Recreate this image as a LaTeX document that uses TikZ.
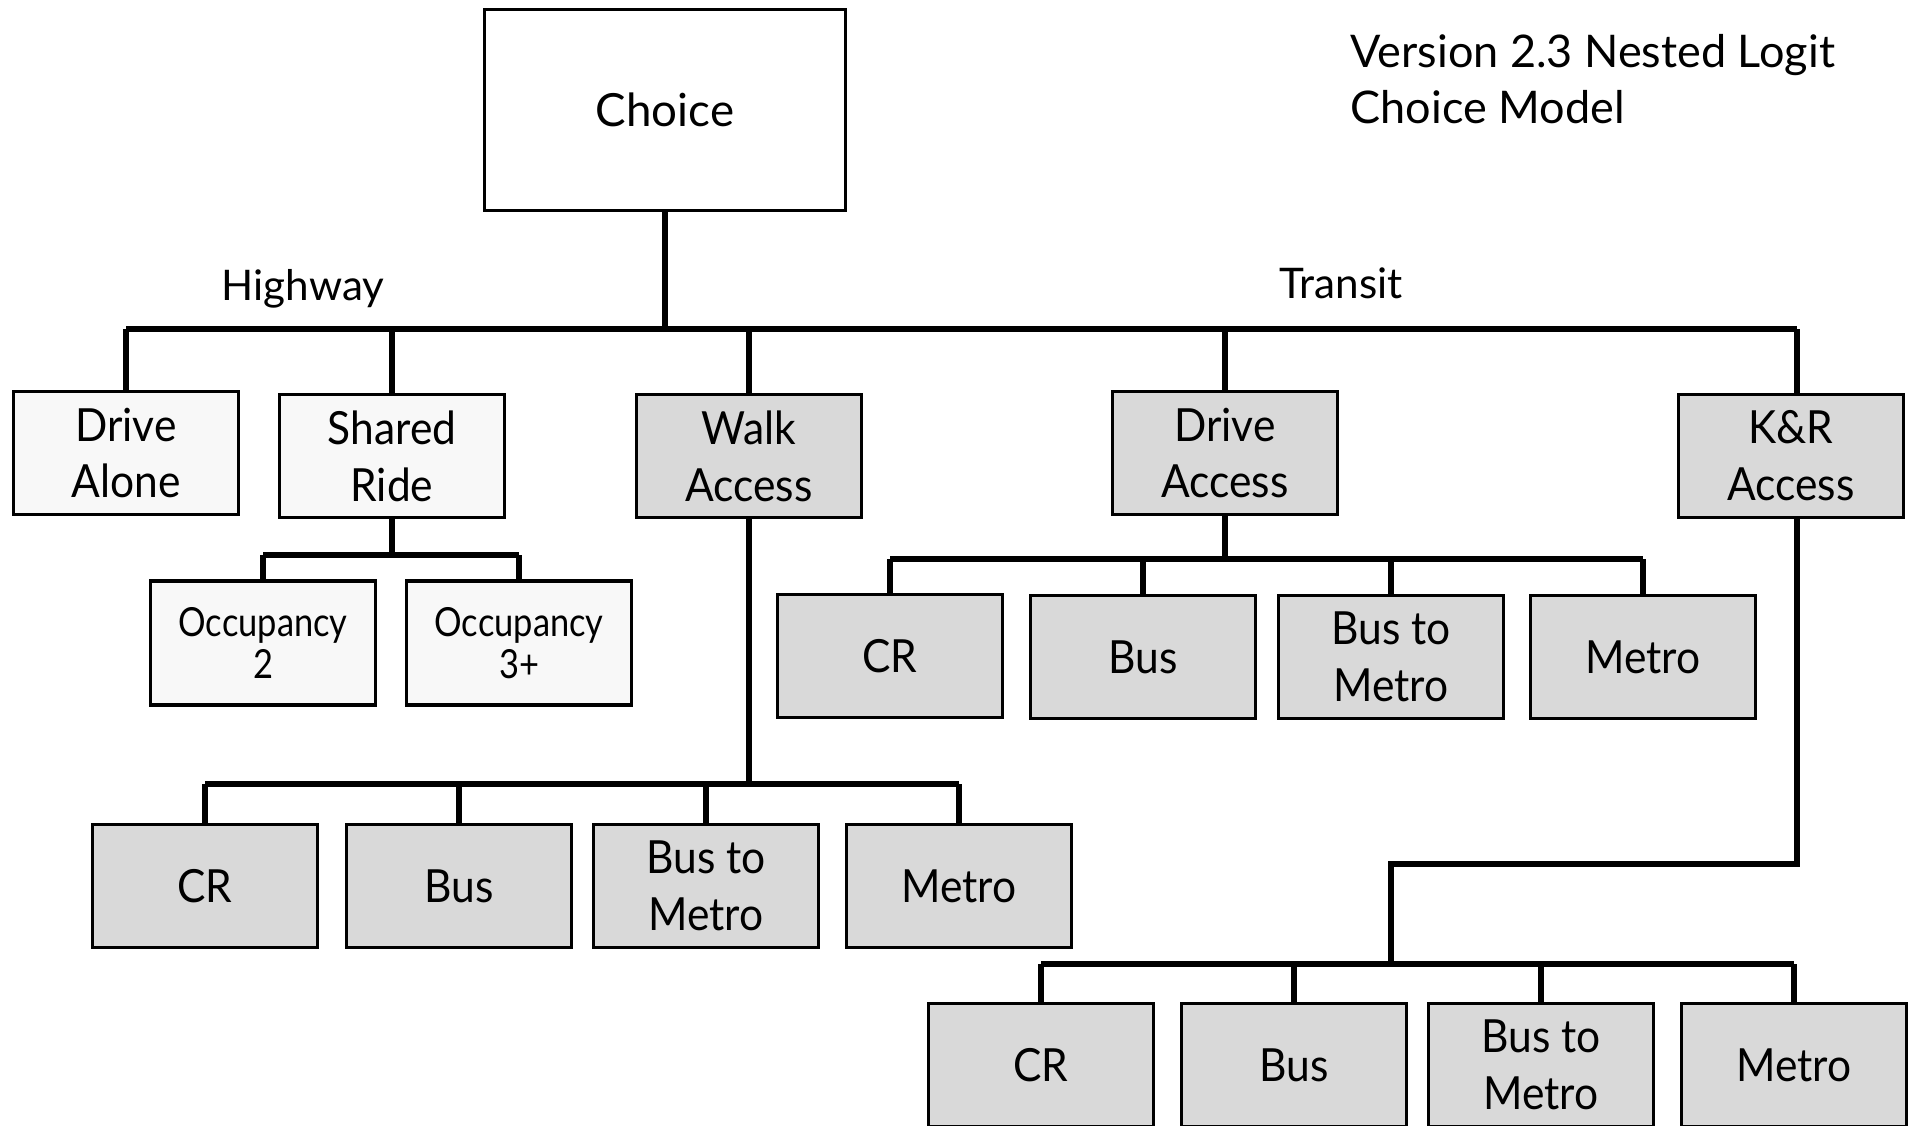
\documentclass[tikz,border=0pt]{standalone}
\usepackage{fontspec}
\setmainfont{Lato}
\newfontfamily\narrowfont[FakeStretch=0.93]{Lato}
\newfontfamily\occfont[FakeStretch=0.86]{Lato}
\usepackage{tikz}
\usetikzlibrary{positioning}
\definecolor{paleBox}{HTML}{F8F8F8}
\definecolor{greyBox}{HTML}{D9D9D9}
\tikzstyle{altbox}=[rectangle, draw, line width=1pt, fill=paleBox, minimum width=2.25cm, minimum height=1.23cm, inner sep=0pt, align=center, font=\narrowfont\fontsize{13}{16.2}\selectfont]
\tikzstyle{transitbox}=[altbox, fill=greyBox]
\tikzstyle{occbox}=[altbox, minimum height=1.24cm, font=\occfont\fontsize{11.4}{11.8}\selectfont]
\tikzstyle{link}=[draw=black, line width=1.85pt]
\tikzstyle{nestlabel}=[inner sep=0pt, font=\fontsize{12}{15}\selectfont]

\begin{document}
\begin{tikzpicture}
		   \useasboundingbox (0,0) rectangle (19.13,-11.25);
		   \begin{scope}
			   \node (choice) at (6.65, -1.10) [rectangle, draw, line width=1pt, minimum width=3.61cm, minimum height=2.01cm, font=\fontsize{13}{16}\selectfont] {Choice};
			   \node (title) at (13.50, -0.79) [anchor=west, inner sep=0pt, align=left, font=\fontsize{12.8}{15.9}\selectfont] {Version 2.3 Nested Logit\\Choice Model};
			   \node (hwy) at (3.03, -2.89) [nestlabel] {Highway};
			   \node (trn) at (13.41, -2.83) [nestlabel] {Transit};

			   \node (da) at (1.26, -4.53) [altbox] {Drive\\Alone};
			   \node (sr) at (3.92, -4.56) [altbox] {Shared\\Ride};
			   \node (wa) at (7.49, -4.56) [transitbox] {Walk\\Access};
			   \node (dra) at (12.25, -4.53) [transitbox] {Drive\\Access};
			   \node (kr) at (17.91, -4.56) [transitbox] {K\&R\\Access};

			   \node (occ2) at (2.63, -6.43) [occbox] {Occupancy\\2};
			   \node (occ3) at (5.19, -6.43) [occbox] {Occupancy\\3+};

			   \node (wcr) at (2.05, -8.86) [transitbox] {CR};
			   \node (wbus) at (4.59, -8.86) [transitbox] {Bus};
			   \node (wbm) at (7.06, -8.86) [transitbox] {Bus to\\Metro};
			   \node (wme) at (9.59, -8.86) [transitbox] {Metro};

			   \node (dcr) at (8.90, -6.56) [transitbox] {CR};
			   \node (dbus) at (11.43, -6.57) [transitbox] {Bus};
			   \node (dbm) at (13.91, -6.57) [transitbox] {Bus to\\Metro};
			   \node (dme) at (16.43, -6.57) [transitbox] {Metro};

			   \node (kcr) at (10.41, -10.65) [transitbox] {CR};
			   \node (kbus) at (12.94, -10.65) [transitbox] {Bus};
			   \node (kbm) at (15.41, -10.65) [transitbox] {Bus to\\Metro};
			   \node (kme) at (17.94, -10.65) [transitbox] {Metro};

			   \coordinate (mainbar) at (0, -3.29);
			   \coordinate (srbar) at (0, -5.55);
			   \coordinate (wabar) at (0, -7.84);
			   \coordinate (drabar) at (0, -5.59);
			   \coordinate (krtop) at ([xshift=0.06cm]kr.north);
			   \coordinate (krbot) at ([xshift=0.06cm]kr.south);
			   \coordinate (krjog) at (13.91, -8.64);
			   \coordinate (krbar) at (0, -9.64);
		   \end{scope}
		   \begin{scope}[every path/.style={link}]
			   \path (choice.south) -- (choice.south |- mainbar);
			   \path (da.north |- mainbar) -- (krtop |- mainbar);
			   \foreach \n in {da, sr, wa, dra}
			       \path (\n.north) -- (\n.north |- mainbar);
			   \path (krtop) -- (krtop |- mainbar);

			   \path (sr.south) -- (sr.south |- srbar);
			   \path (occ2.north |- srbar) -- (occ3.north |- srbar);
			   \foreach \n in {occ2, occ3}
			       \path (\n.north) -- (\n.north |- srbar);

			   \path (wa.south) -- (wa.south |- wabar);
			   \path (wcr.north |- wabar) -- (wme.north |- wabar);
			   \foreach \n in {wcr, wbus, wbm, wme}
			       \path (\n.north) -- (\n.north |- wabar);

			   \path (dra.south) -- (dra.south |- drabar);
			   \path (dcr.north |- drabar) -- (dme.north |- drabar);
			   \foreach \n in {dcr, dbus, dbm, dme}
			       \path (\n.north) -- (\n.north |- drabar);

			   \path (krbot) |- (krjog) -- (krjog |- krbar);
			   \path (kcr.north |- krbar) -- (kme.north |- krbar);
			   \foreach \n in {kcr, kbus, kbm, kme}
			       \path (\n.north) -- (\n.north |- krbar);
		   \end{scope}
	   \end{tikzpicture}
\end{document}
